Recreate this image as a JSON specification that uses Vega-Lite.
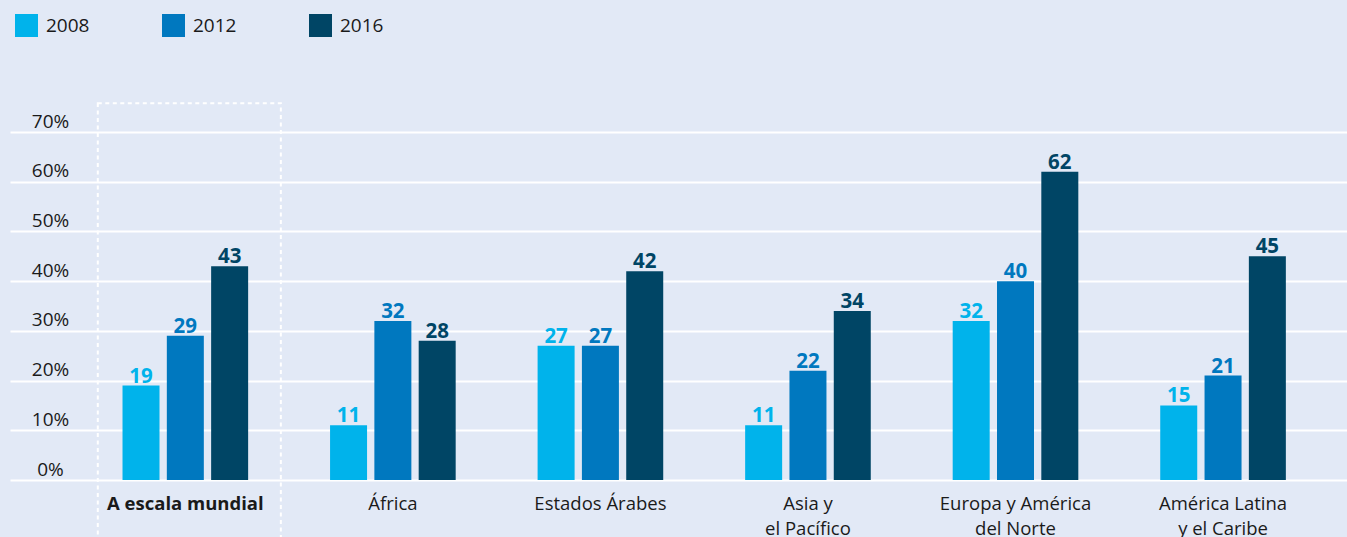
{
  "$schema": "https://vega.github.io/schema/vega-lite/v6.json",
  "width": 1337,
  "height": 348,
  "autosize": {"type": "none"},
  "padding": {"left": 10, "top": 132, "right": 0, "bottom": 57},
  "background": "#e2e9f6",
  "config": {
    "view": {"stroke": null},
    "font": "Open Sans",
    "legend": {
      "orient": "none",
      "legendX": 5,
      "legendY": -118,
      "direction": "horizontal",
      "title": null,
      "padding": 0,
      "symbolType": "square",
      "symbolSize": 529,
      "symbolStrokeWidth": 0,
      "symbolOpacity": 1,
      "labelFontSize": 19,
      "labelOffset": 8,
      "labelColor": "#1a1a1a",
      "columnPadding": 72
    }
  },
  "data": {
    "values": [
      {"region": "A escala mundial", "year": "2008", "value": 19},
      {"region": "A escala mundial", "year": "2012", "value": 29},
      {"region": "A escala mundial", "year": "2016", "value": 43},
      {"region": "África", "year": "2008", "value": 11},
      {"region": "África", "year": "2012", "value": 32},
      {"region": "África", "year": "2016", "value": 28},
      {"region": "Estados Árabes", "year": "2008", "value": 27},
      {"region": "Estados Árabes", "year": "2012", "value": 27},
      {"region": "Estados Árabes", "year": "2016", "value": 42},
      {"region": "Asia y el Pacífico", "year": "2008", "value": 11},
      {"region": "Asia y el Pacífico", "year": "2012", "value": 22},
      {"region": "Asia y el Pacífico", "year": "2016", "value": 34},
      {"region": "Europa y América del Norte", "year": "2008", "value": 32},
      {"region": "Europa y América del Norte", "year": "2012", "value": 40},
      {"region": "Europa y América del Norte", "year": "2016", "value": 62},
      {"region": "América Latina y el Caribe", "year": "2008", "value": 15},
      {"region": "América Latina y el Caribe", "year": "2012", "value": 21},
      {"region": "América Latina y el Caribe", "year": "2016", "value": 45}
    ]
  },
  "encoding": {
    "x": {
      "field": "region",
      "type": "nominal",
      "scale": {
        "domain": ["A escala mundial", "África", "Estados Árabes", "Asia y el Pacífico", "Europa y América del Norte", "América Latina y el Caribe"],
        "paddingInner": 0.118,
        "paddingOuter": 0.28,
        "align": 0.721
      },
      "axis": {
        "title": null,
        "domain": false,
        "ticks": false,
        "tickSize": 0,
        "grid": false,
        "labelAngle": 0,
        "labelPadding": 29,
        "labelBaseline": "alphabetic",
        "labelFontSize": 18.5,
        "labelColor": "#1a1a1a",
        "labelLineHeight": 25,
        "labelLimit": 0,
        "labelFontWeight": {"condition": {"test": "datum.value == 'A escala mundial'", "value": "bold"}, "value": "normal"},
        "labelExpr": "datum.value == 'Asia y el Pacífico' ? ['Asia y', 'el Pacífico'] : datum.value == 'Europa y América del Norte' ? ['Europa y América', 'del Norte'] : datum.value == 'América Latina y el Caribe' ? ['América Latina', 'y el Caribe'] : datum.value"
      }
    }
  },
  "layer": [
    {
      "data": {"values": [{"region": "A escala mundial", "top": 75.8, "bottom": -16}]},
      "mark": {"type": "rect", "fill": null, "stroke": "#ffffff", "strokeWidth": 2, "strokeDash": [4, 3.5], "xOffset": 4},
      "encoding": {
        "y": {"field": "top", "type": "quantitative", "scale": {"domain": [0, 70], "nice": false}},
        "y2": {"field": "bottom"}
      }
    },
    {
      "mark": {"type": "bar"},
      "encoding": {
        "xOffset": {"field": "year", "type": "nominal", "scale": {"paddingInner": 0.165, "paddingOuter": 0.648}},
        "y": {
          "field": "value",
          "type": "quantitative",
          "scale": {"domain": [0, 70], "nice": false},
          "axis": {
            "title": null,
            "domain": false,
            "ticks": false,
            "tickSize": 0,
            "grid": true,
            "gridColor": "#ffffff",
            "gridWidth": 2,
            "gridOpacity": 1,
            "values": [0, 10, 20, 30, 40, 50, 60, 70],
            "labelExpr": "datum.value + '%'",
            "labelAlign": "center",
            "labelBaseline": "alphabetic",
            "labelOffset": -5,
            "labelPadding": -40,
            "labelFontSize": 19,
            "labelColor": "#1a1a1a"
          }
        },
        "color": {
          "field": "year",
          "type": "nominal",
          "scale": {"domain": ["2008", "2012", "2016"], "range": ["#00b3eb", "#0078bf", "#004565"]}
        }
      }
    },
    {
      "mark": {"type": "text", "baseline": "alphabetic", "dy": -3, "fontSize": 20.5, "fontWeight": "bold"},
      "encoding": {
        "xOffset": {"field": "year", "type": "nominal"},
        "y": {"field": "value", "type": "quantitative"},
        "text": {"field": "value", "type": "quantitative"},
        "color": {"field": "year", "type": "nominal"}
      }
    }
  ]
}
